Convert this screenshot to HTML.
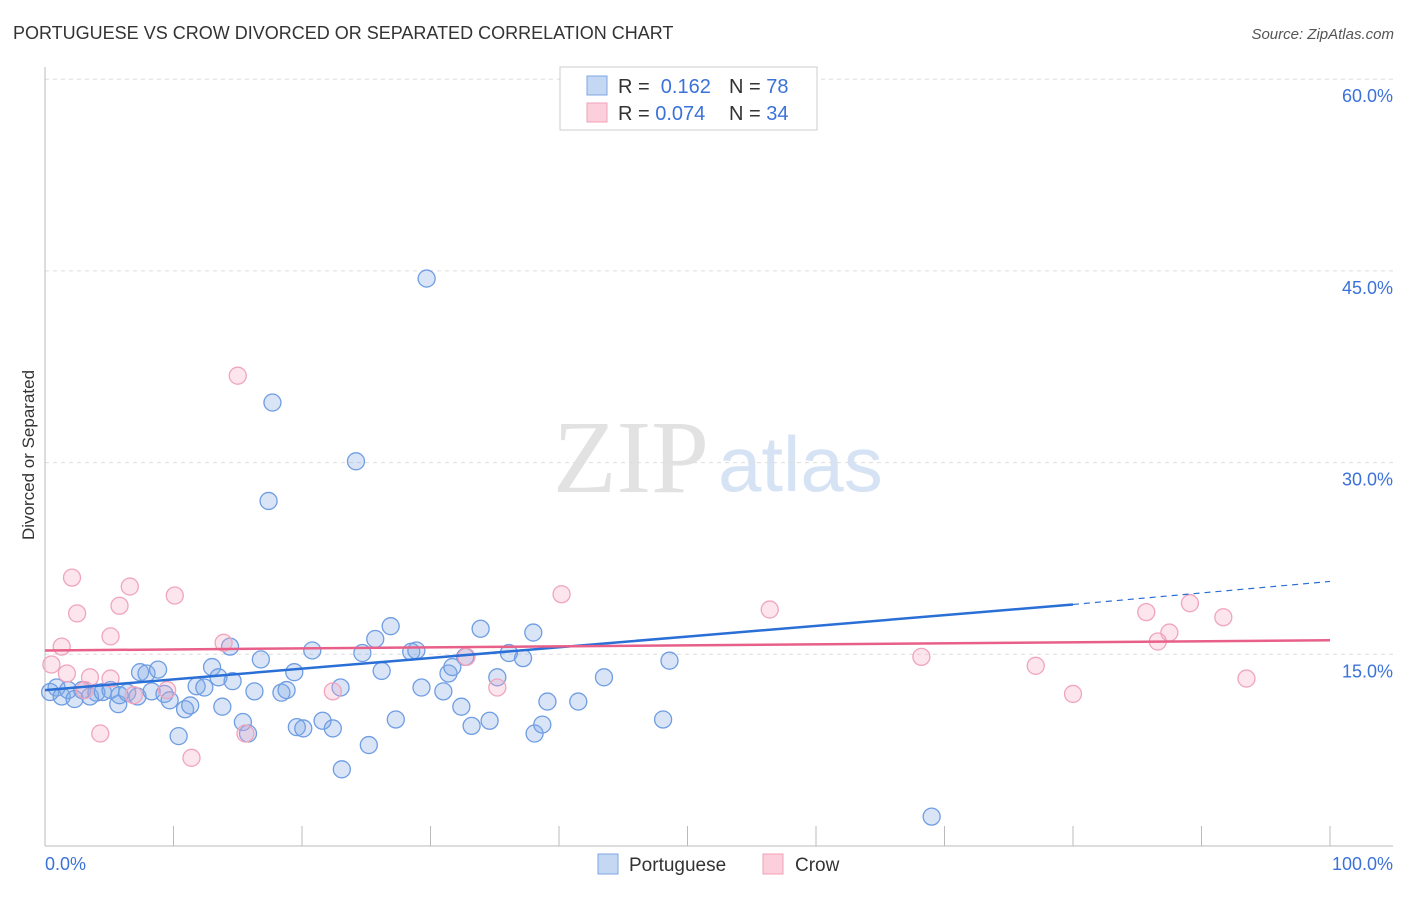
<!DOCTYPE html>
<html><head><meta charset="utf-8"><style>
body{margin:0;background:#fff;font-family:"Liberation Sans",sans-serif}
</style></head><body>
<svg id="chart" width="1406" height="892" xmlns="http://www.w3.org/2000/svg" font-family="Liberation Sans, sans-serif">
<text x="13" y="39" font-size="18" fill="#333">PORTUGUESE VS CROW DIVORCED OR SEPARATED CORRELATION CHART</text>
<text x="1394" y="39" font-size="15" fill="#555" text-anchor="end" font-style="italic">Source: ZipAtlas.com</text>
<text x="553" y="492" font-size="104" fill="#e2e2e2" font-family="Liberation Serif, serif">ZIP</text>
<text x="718" y="491" font-size="78" fill="#d6e3f4">atlas</text>
<text transform="translate(34,455) rotate(-90)" font-size="17" fill="#333" text-anchor="middle">Divorced or Separated</text>
<g id="grid"></g><g id="axes"></g><g id="marks"></g>
<g>
<rect x="560" y="67" width="257" height="63" fill="#fff" stroke="#ccc"/>
<rect x="587" y="76" width="20" height="19" fill="#c5d8f3" stroke="#7ea6e3"/>
<rect x="587" y="103" width="20" height="19" fill="#fbd0dc" stroke="#f0a0b8"/>
<text x="618" y="93" font-size="20" fill="#333">R = <tspan fill="#3b72d9">&#160;0.162</tspan></text>
<text x="729" y="93" font-size="20" fill="#333">N = <tspan fill="#3b72d9">78</tspan></text>
<text x="618" y="120" font-size="20" fill="#333">R = <tspan fill="#3b72d9">0.074</tspan></text>
<text x="729" y="120" font-size="20" fill="#333">N = <tspan fill="#3b72d9">34</tspan></text>
</g>
<g>
<rect x="598" y="854" width="20" height="20" fill="#c5d8f3" stroke="#7ea6e3"/>
<text x="629" y="871" font-size="19" fill="#333">Portuguese</text>
<rect x="763" y="854" width="20" height="20" fill="#fbd0dc" stroke="#f0a0b8"/>
<text x="795" y="871" font-size="19" fill="#333">Crow</text>
</g>
</svg>
<script>
const yTicks=[15,30,45,60];
const xTickLabels=["0.0%","100.0%"];
const blueX=[0.4,0.9,1.3,1.8,2.3,2.9,3.5,4.0,4.5,5.1,5.7,5.8,6.4,7.2,7.4,7.9,8.3,8.8,9.3,9.7,10.4,10.9,11.3,11.8,12.4,13.0,13.5,13.8,14.4,14.6,15.4,15.8,16.3,16.8,17.7,17.4,18.4,18.8,19.4,19.6,20.1,20.8,21.6,22.4,23.0,23.1,24.2,24.7,25.2,25.7,26.2,26.9,27.3,28.5,28.9,29.3,29.7,31.0,31.4,31.7,32.4,32.7,33.2,33.9,34.6,35.2,36.1,37.2,38.0,38.1,38.7,39.1,41.5,43.5,48.1,48.6,69.0];
const blueY=[12.05,12.4,11.7,12.2,11.5,12.2,11.7,12.0,12.05,12.2,11.1,11.8,12.0,11.7,13.6,13.5,12.1,13.8,11.9,11.4,8.6,10.7,11.0,12.5,12.4,14.0,13.2,10.9,15.6,12.9,9.7,8.8,12.1,14.6,34.7,27.0,12.0,12.2,13.6,9.3,9.2,15.3,9.8,9.2,12.4,6.0,30.1,15.1,7.9,16.2,13.7,17.2,9.9,15.2,15.3,12.4,44.4,12.1,13.5,14.0,10.9,14.8,9.4,17.0,9.8,13.2,15.1,14.7,16.7,8.8,9.5,11.3,11.3,13.2,9.9,14.5,2.3];
const pinkX=[0.5,1.3,1.7,2.1,2.5,3.1,3.5,4.3,5.1,5.1,5.8,6.6,6.9,9.5,10.1,11.4,13.9,15.0,15.6,22.4,32.8,35.2,40.2,56.4,68.2,77.1,80.0,85.7,86.6,87.5,89.1,91.7,93.5];
const pinkY=[14.2,15.6,13.5,21.0,18.2,12.2,13.2,8.8,16.4,13.1,18.8,20.3,11.8,12.2,19.6,6.9,15.9,36.8,8.8,12.1,14.8,12.4,19.7,18.5,14.8,14.1,11.9,18.3,16.0,16.7,19.0,17.9,13.1];
const blueTrend=[12.2,18.9,20.7]; // at x=0, 80, 100
const pinkTrend=[15.3,16.1]; // at x=0, 100
const NS="http://www.w3.org/2000/svg";
const X=v=>45+v*12.85, Y=v=>846-v*12.78;
function mk(t,a,p){const e=document.createElementNS(NS,t);for(const k in a)e.setAttribute(k,a[k]);p.appendChild(e);return e;}
const grid=document.getElementById('grid'),axes=document.getElementById('axes'),marks=document.getElementById('marks');
yTicks.forEach(v=>{
 const l=mk('line',{x1:45,x2:1393,y1:Y(v),y2:Y(v),stroke:'#ddd','stroke-dasharray':'4,4'},grid);
 
 
 const t=mk('text',{x:1393,y:Y(v)+23,'font-size':18,fill:'#3b72d9','text-anchor':'end'},axes);
 t.textContent=v.toFixed(1)+'%';
 
 
});
const ax=mk('line',{x1:45,x2:1393,y1:846,y2:846,stroke:'#bbb'},axes);


const ay=mk('line',{x1:45,x2:45,y1:67,y2:846,stroke:'#bbb'},axes);


for(let i=0;i<=10;i++){const tk=mk('line',{x1:X(i*10),x2:X(i*10),y1:826,y2:846,stroke:'#bbb'},axes);
 
 }
[[0,'start',45],[1,'end',1393]].forEach(([i,a,x])=>{const t=mk('text',{x:x,y:870,'font-size':18,fill:'#3b72d9','text-anchor':a},axes);t.textContent=xTickLabels[i];
 
 });
blueX.forEach((v,i)=>{const c=mk('circle',{cx:X(v),cy:Y(blueY[i]),r:8.5,fill:'rgba(130,170,230,0.3)',stroke:'#6f9de3','stroke-width':1.3},marks);
 
 });
pinkX.forEach((v,i)=>{const c=mk('circle',{cx:X(v),cy:Y(pinkY[i]),r:8.5,fill:'rgba(245,170,195,0.3)',stroke:'#f0a5bd','stroke-width':1.3},marks);
 
 });
const bt=mk('line',{x1:X(0),y1:Y(blueTrend[0]),x2:X(80),y2:Y(blueTrend[1]),stroke:'#2a6fd6','stroke-width':2.5},marks);


const bd=mk('line',{x1:X(80),y1:Y(blueTrend[1]),x2:X(100),y2:Y(blueTrend[2]),stroke:'#2a6fd6','stroke-width':1.2,'stroke-dasharray':'6,5'},marks);


const pt=mk('line',{x1:X(0),y1:Y(pinkTrend[0]),x2:X(100),y2:Y(pinkTrend[1]),stroke:'#e8608a','stroke-width':2.5},marks);


</script>
</body></html>
